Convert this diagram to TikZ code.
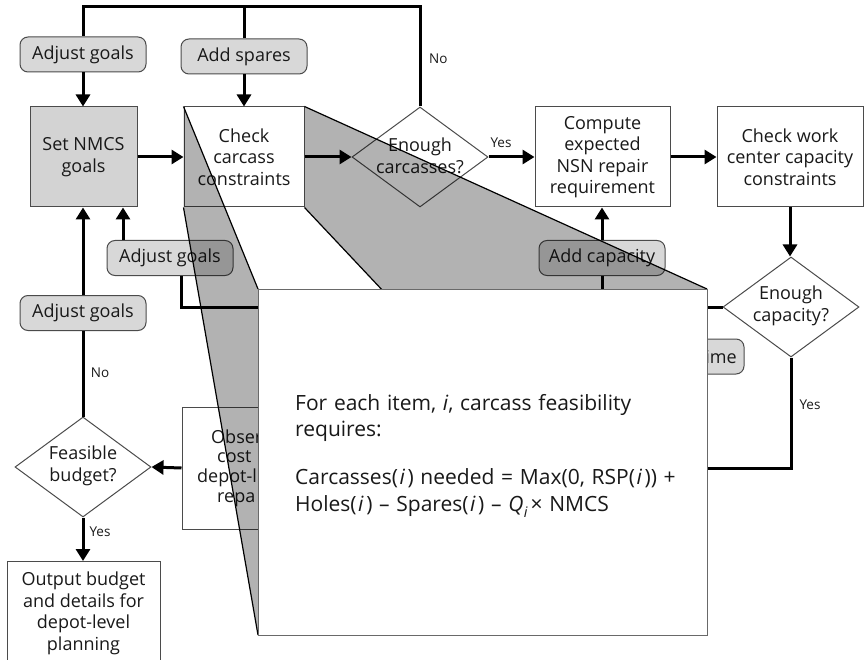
\documentclass[tikz,border=0pt]{standalone}
\usepackage{fontspec}
\setmainfont{Open Sans}
\usetikzlibrary{shapes.geometric,arrows.meta}

\definecolor{ink}{RGB}{25,25,25}
\definecolor{edge}{RGB}{75,75,75}
\definecolor{tagfill}{RGB}{216,216,216}
\definecolor{goalfill}{RGB}{211,211,211}
\definecolor{notedge}{RGB}{105,105,105}

\newcommand\flowfont{\fontsize{18}{21.5}\selectfont}
\newcommand\yesnofont{\fontsize{13.5}{16}\selectfont}
\newcommand\notefont{\fontsize{21}{27}\selectfont\spaceskip=0.32em\relax}
% italic item index, with a little air on both sides
\newcommand\idx{\kern1.5pt\textit{i}\kern2.5pt}

\begin{document}
\begin{tikzpicture}[x=1pt,y=-1pt,
  proc/.style={draw=edge, line width=1pt, fill=white, minimum height=100pt,
    inner sep=0pt, align=center, font=\flowfont, text=ink},
  tag/.style={draw=edge, line width=1pt, fill=tagfill, rounded corners=8pt,
    minimum width=126pt, minimum height=35pt, inner sep=0pt, font=\flowfont, text=ink},
  query/.style={diamond, draw=edge, line width=1pt, fill=white,
    minimum width=136pt, minimum height=100pt, inner sep=0pt},
  qtext/.style={align=center, font=\flowfont, text=ink, inner sep=0pt},
  yesno/.style={font=\yesnofont, text=ink, inner sep=0pt},
  flow/.style={line width=3pt, -{Triangle[length=12pt,width=14pt]}},
  link/.style={line width=3pt},
  face/.style={fill=black, opacity=0.3},
  cone/.style={line width=1.2pt, black},
  notetext/.style={font=\notefont, text=ink, inner sep=0pt, anchor=base west},
  frag/.style={font=\flowfont, text=ink, inner sep=0pt, anchor=west}]

\useasboundingbox (0,0) rectangle (864,660);

% ---------- process boxes ----------
\node[proc, fill=goalfill, minimum width=107pt] (nmcs) at (83.5,157) {Set NMCS\\goals};
\node[proc, minimum width=120pt] (carc) at (244,157) {Check\\carcass\\constraints};
\node[proc, minimum width=135pt] (nsn) at (602.5,157) {Compute\\expected\\NSN repair\\requirement};
\node[proc, minimum width=146pt] (work) at (790,157) {Check work\\center capacity\\constraints};
\node[proc, minimum width=118pt, minimum height=122pt] (obs) at (241,468) {};
\node[proc, minimum width=153pt, minimum height=104pt, anchor=north] (out) at (83.5,561)
  {Output budget\\and details for\\depot-level\\planning};

% ---------- decisions ----------
\node[query] (enc) at (420,157) {};
\node[qtext] (enctext) at (420,156) {Enough\\carcasses?};
\node[query] (ecap) at (791,307) {};
\node[qtext] (ecaptext) at (791,306) {Enough\\capacity?};
\node[query] (feas) at (83,467) {};
\node[qtext] (feastext) at (83,466) {Feasible\\budget?};

% ---------- adjustment tags ----------
\node[tag] (adj1) at (83,54.5) {Adjust goals};
\node[tag] (spares) at (244,56.5) {Add spares};
\node[tag] (adj2) at (170,258) {Adjust goals};
\node[tag] (addcap) at (602,258) {Add capacity};
\node[tag] (adj3) at (83,313) {Adjust goals};
\node[tag] (addtime) at (681,356.5) {};
\node[frag, anchor=east] (timetext) at (737,357) {ime};

% fragments of the repair-cost box left in view
\node[frag] (o1) at (211,437) {Obser};
\node[frag] (o2) at (217,457) {cost};
\node[frag] (o3) at (197,478) {depot-l};
\node[frag] (o4) at (217,500) {repa};

% ---------- connectors ----------
\coordinate (loop) at (420,7);
\draw[link] (enc.north) -- (loop) -| (adj1.north);
\draw[link] (spares.north) -- (spares.north |- loop);
\node[yesno, anchor=west] (nocarc) at (429,59) {No};

\draw[flow] (adj1.south) -- (adj1.south |- nmcs.north);
\draw[flow] (spares.south) -- (spares.south |- carc.north);
\draw[flow] (nmcs.east) -- (carc.west);
\draw[flow] (carc.east) -- (enc.west);
\draw[flow] (enc.east) -- (nsn.west);
\node[yesno] (yescarc) at (501,143) {Yes};
\draw[flow] (nsn.east) -- (work.west);
\draw[flow] (work.south) -- (work.south |- ecap.north);
\draw[flow] (addcap.north) -- (addcap.north |- nsn.south);

\coordinate (nocap) at (181,307);
\draw[link] (ecap.west) -- (nocap) -- (nocap |- adj2.south);
\draw[link] (addcap.south) -- (addcap.south |- nocap);
\draw[flow] ([xshift=-47pt]adj2.north) -- ([xshift=-47pt]adj2.north |- nmcs.south);
\draw[flow] (adj3.north) -- (adj3.north |- nmcs.south);

\draw[link] (feas.north) -- (feas.north |- adj3.south);
\node[yesno] (nofeas) at (100,373) {No};
\draw[flow] (obs.west) -- (feas.east);
\draw[flow] (feas.south) -- (feas.south |- out.north);
\node[yesno] (yesfeas) at (100,532) {Yes};

\draw[link] (ecap.south) |- (obs.east);
\node[yesno] (yescap) at (810,405) {Yes};

% ---------- enlarged view of the carcass check ----------
\coordinate (nNW) at (258,289);
\coordinate (nNE) at (707,289);
\coordinate (nSW) at (258,635);
\coordinate (nSE) at (707,635);

\fill[face] (carc.north west) -- (nNW) -- (nSW) -- (carc.south west) -- cycle;
\fill[face] (carc.north east) -- (nNE) -- (nSE) -- (carc.south east) -- cycle;
\draw[cone] (carc.north west) -- (nNW);
\draw[cone] (carc.south west) -- (nSW);
\draw[cone] (carc.north east) -- (nNE);
\draw[cone] (carc.south east) -- (nSE);

\node[draw=notedge, line width=1.3pt, fill=white, inner sep=0pt, anchor=north west,
  minimum width=449pt, minimum height=346pt] (note) at (nNW) {};
\node[notetext] (n1) at (295,410.5) {For each item, \textit{i}, carcass feasibility};
\node[notetext] (n2) at (295,436.5) {requires:};
\node[notetext] (n3) at (295,484) {Carcasses(\idx) needed = Max(0, RSP(\idx)) +};
\node[notetext] (n4) at (295,511.5) {Holes(\idx) – Spares(\idx) – \textit{Q}\kern0.5pt\raisebox{-0.3em}{\fontsize{14.5}{14.5}\selectfont\itshape i}\kern3pt× NMCS};

\end{tikzpicture}
\end{document}
